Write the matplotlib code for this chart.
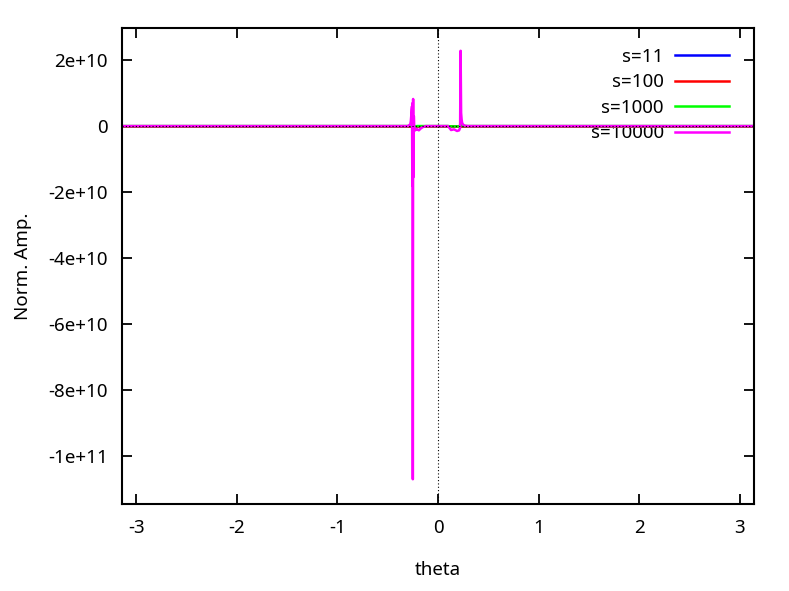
import matplotlib
matplotlib.use("Agg")
import matplotlib.pyplot as plt

plt.rcParams['font.family'] = ['Noto Sans', 'DejaVu Sans']

# theta grid (sparse away from the spikes, dense around them)
theta = [-3.1416, -1.5, -0.30, -0.275, -0.27, -0.265, -0.262, -0.258, -0.255,
         -0.252, -0.25, -0.247, -0.245, -0.24, -0.235, -0.23, -0.22, -0.21,
         -0.19, -0.17, -0.15, -0.12, 0.10, 0.13, 0.16, 0.19, 0.21, 0.22,
         0.225, 0.23, 0.235, 0.24, 0.25, 0.27, 0.30, 1.5, 3.1416]

# lower s values stay close to zero on this scale
amp_s11 = [0.0] * len(theta)
amp_s100 = [0.0] * len(theta)
amp_s1000 = [0.0, 0.0, 0.0, 1e8, 2e8, 4e8, 3e8, 5e8, -2e8, 6e8, -8e8, 4e8, -3e8,
             2e8, -2e8, 0.0, -1e8, 0.0, 0.0, 0.0, 0.0, 0.0, 0.0, -1e8, -1e8,
             -1e8, -2e8, 3e8, 8e8, 1.2e9, 5e8, 2e8, 0.0, 0.0, 0.0, 0.0, 0.0]
amp_s10000 = [0.0, 0.0, 0.0, 5e8, 1.5e9, 3.3e9, 5.0e9, 6.0e9, -1.8e10, 7.0e9,
              -1.07e11, 8.2e9, -1.55e10, 3.0e9, -1.5e9, -0.8e9, -1.2e9, -0.9e9,
              -1.3e9, -0.7e9, -0.3e9, 0.0, 0.0, -1.2e9, -1.0e9, -1.5e9, -1.3e9,
              -0.5e9, 2.28e10, 4.0e9, 2.0e9, 1.0e9, 0.4e9, 0.1e9, 0.0, 0.0, 0.0]

labels = ["s=11", "s=100", "s=1000", "s=10000"]
colors = ["#0000ff", "#ff0000", "#00ff00", "#ff00ff"]

xticks = [-3, -2, -1, 0, 1, 2, 3]
yticks = [2e10, 0, -2e10, -4e10, -6e10, -8e10, -1e11]
ytick_labels = ["2e+10", "0", "-2e+10", "-4e+10", "-6e+10", "-8e+10", "-1e+11"]

fig = plt.figure(figsize=(7.89, 5.91), dpi=100)
ax = fig.add_axes([0.1546, 0.1472, 0.801, 0.8054])

series = [amp_s11, amp_s100, amp_s1000, amp_s10000]
for amp, lab, col in zip(series, labels, colors):
    ax.plot(theta, amp, color=col, lw=1.8, label=lab)

# gnuplot style zero axes
ax.axhline(0, color="black", lw=0.8, ls=(0, (1, 2)), zorder=5)
ax.axvline(0, color="black", lw=0.8, ls=(0, (1, 2)), zorder=5)

ax.set_xlim(-3.1416, 3.1416)
ax.set_ylim(-1.145e11, 2.97e10)
ax.set_xticks(xticks)
ax.set_xticklabels([str(t) for t in xticks])
ax.set_yticks(yticks)
ax.set_yticklabels(ytick_labels)
ax.tick_params(direction="in", length=7, width=1.3, top=True, right=True,
               labelsize=13.5, color="black")
ax.tick_params(axis="x", pad=11)
ax.tick_params(axis="y", pad=10)
for sp in ax.spines.values():
    sp.set_linewidth(1.5)

ax.set_xlabel("theta", fontsize=13.5, labelpad=17)
ax.set_ylabel("Norm. Amp.", fontsize=13.5, labelpad=12)

leg = ax.legend(loc="upper right", frameon=False, markerfirst=False,
                fontsize=13.5, handlelength=2.9, handletextpad=0.6,
                labelspacing=0.40, borderaxespad=0.4,
                bbox_to_anchor=(0.985, 0.99))
leg.set_zorder(1)  # data drawn over the key, like gnuplot

fig.savefig("out.png", dpi=100)
